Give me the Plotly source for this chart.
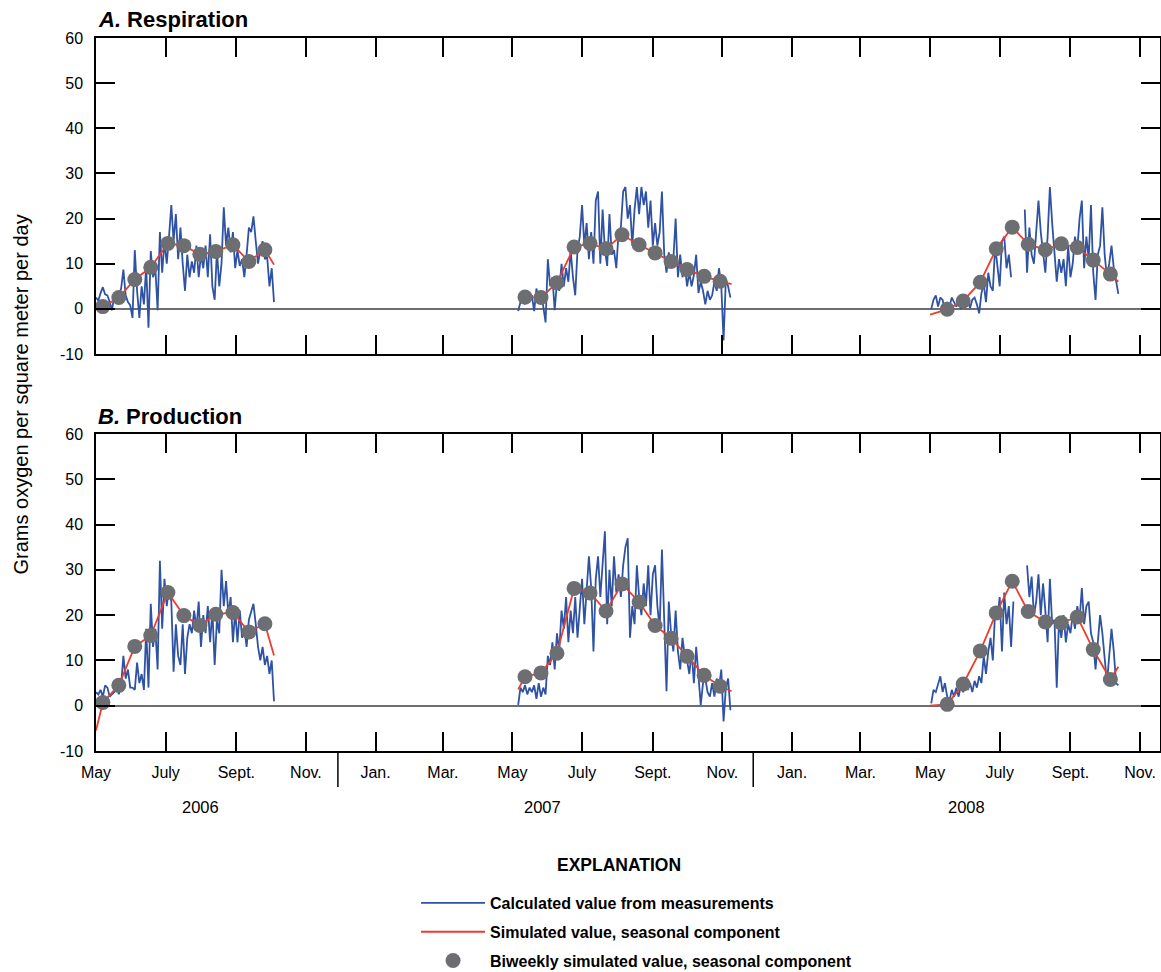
import plotly.graph_objects as go
import pandas as pd

FONT = "Liberation Sans, Arial, sans-serif"

# ---------------- data ----------------
# Blue: calculated daily values (sampled every 2 days) for each season
BLUE_STARTS = ["2006-05-01", "2007-05-06", "2008-05-02"]

A_BLUE_2006 = [2.5, 1.8, 3.5, 4.8, 3.2, 3.0, 1.5, -0.3, 2.8, 1.5,
               3.0, 4.5, 8.7, 3.0, 1.5, 0.8, -2.0, 13.0, 4.0, -2.0,
               5.0, 1.0, 9.5, -4.2, 12.8, 7.0, 9.0, -0.3, 17.0, 8.0,
               15.0, 10.0, 16.0, 23.0, 15.0, 21.0, 11.0, 18.0, 10.0, 4.0,
               12.0, 7.0, 10.5, 8.0, 14.0, 7.0, 12.0, 9.0, 14.0, 7.0,
               16.5, 5.0, 2.0, 13.0, 5.0, 10.0, 22.5, 14.0, 18.0, 12.5,
               17.0, 9.0, 13.0, 9.5, 11.0, 7.0, 12.0, 18.0, 17.0, 20.5,
               15.0, 10.0, 13.0, 15.0, 11.0, 11.5, 5.0, 9.0, 1.5]
A_BLUE_2007 = [-0.5, 1.5, 2.2, 1.0, 3.5, 2.5, 3.0, -0.5, 4.5, 2.0,
               4.0, 0.5, -3.0, 11.0, 5.0, 7.0, -0.3, 6.0, 4.0, 10.0,
               5.0, 9.0, 6.0, 13.0, 7.0, 3.0, 13.0, 16.0, 23.0, 14.0,
               19.0, 11.0, 17.0, 10.0, 24.0, 26.0, 10.0, 22.0, 13.0, 9.5,
               21.0, 12.0, 13.0, 9.0, 17.0, 18.0, 26.0, 27.0, 20.0, 23.0,
               14.0, 22.0, 27.0, 21.0, 27.0, 23.0, 26.0, 18.0, 24.0, 14.0,
               19.0, 14.0, 17.0, 26.0, 12.0, 8.0, 12.5, 10.0, 11.0, 20.0,
               7.0, 12.0, 7.0, 10.0, 5.0, 8.0, 5.0, 7.5, 12.0, 3.5,
               6.0, 4.0, 1.0, 4.0, 2.0, 3.0, 6.0, 4.0, 9.0, 5.0,
               -7.0, 6.5, 5.0, 2.5]
A_BLUE_2008 = [0.0, 2.0, 3.0, 0.5, 2.5, 2.0, -0.5, 1.5, 0.5, 2.5,
               1.5, 0.5, 1.5, 0.0, 1.5, 2.5, 2.0, 0.2, 2.0, 2.5,
               1.0, -1.0, 3.5, 5.5, 1.5, 8.0, 5.0, 4.0, 14.0, 10.0,
               5.0, 15.0, 16.0, 9.0, 12.0, 7.0, None, None, None, None,
               None, 22.0, 8.0, 18.0, 12.0, 10.0, 18.0, 24.0, 17.0, 13.0,
               8.0, 16.0, 27.0, 19.0, 12.0, 6.0, 11.0, 8.0, 11.0, 5.0,
               14.0, 7.0, 10.0, 16.0, 13.0, 20.0, 24.0, 9.0, 16.0, 11.0,
               23.0, 8.0, 2.0, 12.0, 14.0, 22.5, 12.0, 7.0, 10.0, 14.0,
               9.0, 6.0, 3.3]

B_BLUE_2006 = [3.0, 2.5, 3.5, 2.0, 4.5, 4.0, 2.0, 2.5, 3.0, 4.5,
               2.5, 4.5, 11.0, 6.0, 8.0, 4.0, 4.0, 3.5, 9.5, 5.0,
               7.0, 3.5, 17.0, 4.0, 22.5, 13.0, 17.0, 8.0, 32.0, 17.0,
               28.0, 22.0, 26.0, 23.0, 7.5, 18.0, 11.0, 9.0, 18.0, 7.0,
               15.0, 18.0, 16.0, 21.0, 17.0, 23.0, 13.0, 20.0, 16.0, 22.0,
               14.0, 21.0, 9.0, 19.0, 16.0, 30.0, 22.0, 27.5, 20.0, 24.0,
               14.0, 21.0, 14.0, 21.0, 15.0, 17.0, 13.0, 19.0, 21.0, 22.5,
               18.0, 13.0, 10.0, 13.0, 9.0, 11.0, 7.0, 10.0, 1.0]
B_BLUE_2007 = [0.2, 4.0, 3.0, 4.5, 2.5, 4.0, 3.0, 4.5, 1.5, 5.0,
               2.0, 4.0, 2.5, 11.0, 9.0, 14.0, 8.0, 16.0, 12.0, 21.0,
               17.0, 24.0, 14.0, 21.0, 16.0, 24.0, 15.0, 22.0, 28.0, 18.0,
               26.0, 33.0, 26.0, 12.0, 28.0, 33.0, 24.0, 31.0, 38.5, 18.0,
               30.0, 22.0, 33.0, 25.0, 29.0, 24.0, 31.0, 35.0, 37.0, 15.0,
               22.0, 18.0, 31.0, 24.0, 20.0, 27.0, 22.0, 31.0, 20.0, 29.0,
               31.0, 22.0, 17.0, 34.5, 20.0, 3.2, 23.0, 16.0, 12.0, 21.0,
               12.0, 8.0, 15.0, 11.0, 10.0, 7.0, 12.0, 5.0, 13.0, 7.0,
               0.2, 5.0, 6.0, 3.0, 2.0, 5.0, 2.0, 6.0, 4.0, 8.0,
               -3.5, 4.0, 6.0, -1.0]
B_BLUE_2008 = [0.5, 3.5, 3.0, 5.0, 6.5, 3.0, 5.0, 2.0, 1.0, 3.5,
               2.0, 4.0, 2.0, 4.5, 3.0, 4.5, 3.5, 5.0, 3.0, 5.5,
               4.0, 6.5, 5.0, 11.0, 7.0, 12.0, 15.0, 10.0, 21.0, 19.0,
               24.0, 12.0, 25.0, 18.0, 22.0, 13.0, 23.0, None, None, None,
               None, None, 31.0, 24.0, 28.5, 20.0, 23.0, 29.0, 20.0, 27.0,
               21.0, 14.0, 28.0, 18.0, 19.0, 4.0, 19.0, 15.0, 20.0, 14.0,
               18.0, 16.0, 20.0, 17.0, 22.0, 19.0, 26.0, 18.0, 22.0, 23.0,
               16.0, 14.0, 8.0, 14.0, 20.0, 16.0, 11.0, 5.0, 11.0, 17.0,
               12.0, 5.0, 4.5]

# Biweekly simulated values (gray dots)
DOT_DATES_2006 = ["2006-05-07", "2006-05-21", "2006-06-04", "2006-06-18", "2006-07-03",
                  "2006-07-17", "2006-07-31", "2006-08-14", "2006-08-29", "2006-09-12",
                  "2006-09-26"]
DOT_DATES_2007 = ["2007-05-12", "2007-05-26", "2007-06-09", "2007-06-24", "2007-07-08",
                  "2007-07-22", "2007-08-05", "2007-08-20", "2007-09-03", "2007-09-17",
                  "2007-10-01", "2007-10-16", "2007-10-30"]
DOT_DATES_2008 = ["2008-05-16", "2008-05-30", "2008-06-14", "2008-06-28", "2008-07-12",
                  "2008-07-26", "2008-08-10", "2008-08-24", "2008-09-07", "2008-09-21",
                  "2008-10-06"]

A_DOTS_2006 = [0.5, 2.5, 6.5, 9.2, 14.5, 14.0, 12.1, 12.7, 14.2, 10.5, 13.1]
A_DOTS_2007 = [2.6, 2.5, 5.8, 13.7, 14.5, 13.3, 16.4, 14.2, 12.4, 10.5, 8.7, 7.2, 6.1]
A_DOTS_2008 = [-0.1, 1.75, 5.9, 13.3, 18.1, 14.3, 13.1, 14.4, 13.6, 10.8, 7.7]
B_DOTS_2006 = [0.7, 4.5, 13.1, 15.5, 25.0, 19.9, 17.7, 20.2, 20.6, 16.3, 18.1]
B_DOTS_2007 = [6.4, 7.25, 11.6, 25.9, 24.9, 20.9, 26.9, 22.9, 17.7, 14.9, 10.9, 6.7, 4.3]
B_DOTS_2008 = [0.3, 4.8, 12.1, 20.5, 27.5, 20.8, 18.5, 18.3, 19.6, 12.4, 5.8]

# Simulated seasonal component (red): season start / end values, passes through dots
RED_START_DATES = ["2006-05-01", "2007-05-06", "2008-05-01"]
RED_END_DATES = ["2006-10-04", "2007-11-09", "2008-10-13"]
A_RED_START = [0.0, 2.3, -1.3]
A_RED_END = [9.8, 5.5, 6.0]
B_RED_START = [-5.5, 3.6, 0.0]
B_RED_END = [11.1, 3.2, 8.6]

TICK_DATES = ["2006-05-01", "2006-07-01", "2006-09-01", "2006-11-01",
              "2007-01-01", "2007-03-01", "2007-05-01", "2007-07-01", "2007-09-01", "2007-11-01",
              "2008-01-01", "2008-03-01", "2008-05-01", "2008-07-01", "2008-09-01", "2008-11-01"]
TICK_TEXT = ["May", "July", "Sept.", "Nov.",
             "Jan.", "Mar.", "May", "July", "Sept.", "Nov.",
             "Jan.", "Mar.", "May", "July", "Sept.", "Nov."]
Y_TICKS = [-10, 0, 10, 20, 30, 40, 50, 60]
Y_TICK_TEXT = ["-10", "0", "10", "20", "30", "40", "50", "60"]
YEAR_LABELS = ["2006", "2007", "2008"]
YEAR_LABEL_DATES = ["2006-08-01", "2007-05-27", "2008-06-02"]
YEAR_SEP_DATES = ["2006-11-29", "2007-11-28"]

X_RANGE = ["2006-05-01", "2008-11-18 12:00"]

BLUE = "#2f52a3"
RED = "#ef3b2c"
GRAY = "#6d6e71"


def blue_series(blocks):
    xs, ys = [], []
    for s, vals in zip(BLUE_STARTS, blocks):
        d = pd.date_range(s, periods=len(vals), freq="2D")
        xs += [x.strftime("%Y-%m-%d") for x in d] + [None]
        ys += list(vals) + [None]
    return xs, ys


def red_series(starts, dots_list, ends):
    xs, ys = [], []
    for i, (dd, dv) in enumerate(zip([DOT_DATES_2006, DOT_DATES_2007, DOT_DATES_2008], dots_list)):
        xs += [RED_START_DATES[i]] + dd + [RED_END_DATES[i]] + [None]
        ys += [starts[i]] + dv + [ends[i]] + [None]
    return xs, ys


def dot_series(dots_list):
    xs, ys = [], []
    for dd, dv in zip([DOT_DATES_2006, DOT_DATES_2007, DOT_DATES_2008], dots_list):
        xs += dd
        ys += dv
    return xs, ys


fig = go.Figure()

panels = [
    ("x", "y", [A_BLUE_2006, A_BLUE_2007, A_BLUE_2008], A_RED_START,
     [A_DOTS_2006, A_DOTS_2007, A_DOTS_2008], A_RED_END, True),
    ("x2", "y2", [B_BLUE_2006, B_BLUE_2007, B_BLUE_2008], B_RED_START,
     [B_DOTS_2006, B_DOTS_2007, B_DOTS_2008], B_RED_END, False),
]
for xa, ya, blues, rstart, dots, rend, show in panels:
    bx, by = blue_series(blues)
    fig.add_trace(go.Scatter(x=bx, y=by, mode="lines", xaxis=xa, yaxis=ya,
                             line=dict(color=BLUE, width=1.8),
                             name="<b>Calculated value from measurements</b>",
                             legendgroup="g1", showlegend=show))
    rx, ry = red_series(rstart, dots, rend)
    fig.add_trace(go.Scatter(x=rx, y=ry, mode="lines", xaxis=xa, yaxis=ya,
                             line=dict(color=RED, width=1.8),
                             name="<b>Simulated value, seasonal component</b>",
                             legendgroup="g2", showlegend=show))
    dx, dy = dot_series(dots)
    fig.add_trace(go.Scatter(x=dx, y=dy, mode="markers", xaxis=xa, yaxis=ya,
                             marker=dict(color=GRAY, size=15, line=dict(width=0)),
                             name="<b>Biweekly simulated value, seasonal component</b>",
                             legendgroup="g3", showlegend=show))

tickfont = dict(family=FONT, size=16, color="black")
xcommon = dict(type="date", range=X_RANGE, tickvals=TICK_DATES, ticktext=TICK_TEXT,
               ticks="inside", ticklen=19, tickwidth=1.5, tickcolor="black",
               showline=True, linecolor="black", linewidth=1.5, mirror="ticks",
               showgrid=False, zeroline=False, tickfont=tickfont, domain=[0, 1],
               ticklabelstandoff=6)
ycommon = dict(range=[-10, 60], tickvals=Y_TICKS, ticktext=Y_TICK_TEXT,
               ticks="inside", ticklen=19, tickwidth=1.5, tickcolor="black",
               showline=True, linecolor="black", linewidth=1.5, mirror="ticks",
               showgrid=False, zeroline=True, zerolinecolor=GRAY, zerolinewidth=1.5,
               tickfont=tickfont, ticklabelstandoff=8)

fig.update_layout(
    width=1161, height=972,
    margin=dict(l=96, r=1, t=38, b=221, autoexpand=False),
    paper_bgcolor="white", plot_bgcolor="white",
    xaxis=dict(**xcommon, anchor="y", showticklabels=False),
    yaxis=dict(**ycommon, anchor="x", domain=[0.5568, 1]),
    xaxis2=dict(**xcommon, anchor="y2", showticklabels=True),
    yaxis2=dict(**ycommon, anchor="x2", domain=[0, 0.4446]),
    showlegend=True,
    legend=dict(x=0.3008, y=-0.1894, xanchor="left", yanchor="top",
                font=dict(family=FONT, size=16, color="black"),
                itemwidth=64, tracegroupgap=5, traceorder="grouped",
                bgcolor="rgba(0,0,0,0)"),
)

annotations = [
    dict(text="<b><i>A.</i> Respiration</b>", xref="paper", yref="paper", x=0, y=1.026,
         xanchor="left", yanchor="middle", showarrow=False,
         font=dict(family=FONT, size=22, color="black")),
    dict(text="<b><i>B.</i> Production</b>", xref="paper", yref="paper", x=0, y=0.4698,
         xanchor="left", yanchor="middle", showarrow=False,
         font=dict(family=FONT, size=22, color="black")),
    dict(text="Grams oxygen per square meter per day", xref="paper", yref="paper",
         x=-0.0714, y=0.5, xanchor="center", yanchor="middle", textangle=-90,
         showarrow=False, font=dict(family=FONT, size=20, color="black")),
    dict(text="<b>EXPLANATION</b>", xref="paper", yref="paper", x=0.4915, y=-0.16,
         xanchor="center", yanchor="middle", showarrow=False,
         font=dict(family=FONT, size=17.5, color="black")),
]
for lab, d in zip(YEAR_LABELS, YEAR_LABEL_DATES):
    annotations.append(dict(text=lab, xref="x2", yref="paper", x=d, y=-0.0785,
                            xanchor="center", yanchor="middle", showarrow=False,
                            font=dict(family=FONT, size=16.5, color="black")))
fig.update_layout(annotations=annotations)

shapes = []
for d in YEAR_SEP_DATES:
    shapes.append(dict(type="line", xref="x2", yref="paper", x0=d, x1=d,
                       y0=-0.0014, y1=-0.0505, line=dict(color="black", width=1.5)))
fig.update_layout(shapes=shapes)

fig.write_html("out.html")
